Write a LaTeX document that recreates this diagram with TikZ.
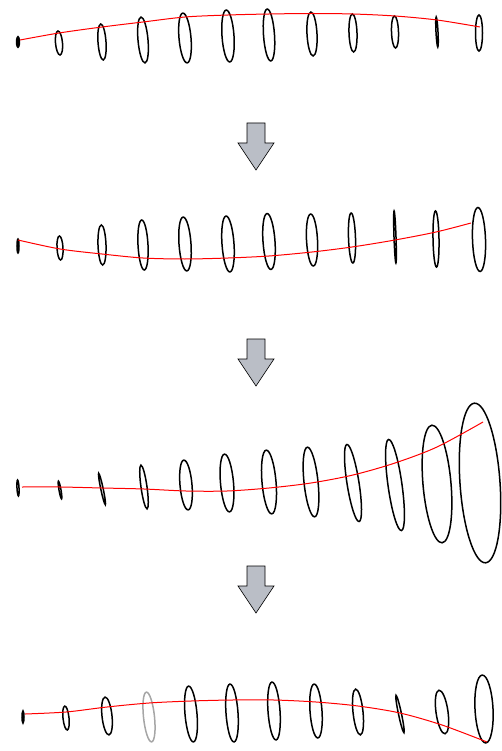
\documentclass[tikz,border=0pt]{standalone}
\usepackage{tikz}
\definecolor{arrowgray}{RGB}{186,190,198}
\tikzset{ring/.style={draw=black, line width=1.5pt},
    spine/.style={red, line width=1pt},
    downarrow/.style={fill=arrowgray, draw=black, line width=0.6pt, line join=miter}}

\begin{document}
\begin{tikzpicture}[x=1pt, y=-1pt]
    \useasboundingbox (0,0) rectangle (501,751);
    % row 1
    \fill[black] (18,42) circle [x radius=2.2, y radius=6.5];
    \foreach \x/\y/\rx/\ry/\a in {59/43/3.5/12/5, 102/42/4/18/4, 143/40/5/23/5, 185/38/6/25/5, 228/36/6/26/4, 269/35/5.5/26/4, 312/34/5/22/3, 353/33/4/19/2, 395/32/3.5/16/2, 437/32/1/15/3, 479/33/3.5/18/0}{\draw[ring] (\x,\y) circle [x radius=\rx, y radius=\ry, rotate=\a];}
    \draw[spine] plot[smooth] coordinates {(20,40) (59,33) (102,27) (143,22) (185,17) (228,15) (269,14) (312,13.5) (353,14) (395,16) (437,20) (480,27)};
    % row 2
    \foreach \x/\y/\rx/\ry/\a in {18/246/1/7/0, 60/248/3/12/3, 102/245/4/20/2, 143/245/5/25/3, 185/244/6/27/4, 228/244/6/28/4, 269/241.5/6/28/4, 312/240/5.5/26/3, 352/238/3.5/25/2, 395/237/1/26/2, 436/239/3/28/1, 479/239.5/6.5/32/2}{\draw[ring] (\x,\y) circle [x radius=\rx, y radius=\ry, rotate=\a];}
    \draw[spine] plot[smooth] coordinates {(18,240) (60,249) (102,254) (143,258) (185,259) (228,258) (269,256) (312,252) (352,247) (395,240) (436,232) (471,223)};
    % row 3
    \foreach \x/\y/\rx/\ry/\a in {18/488/1/8/3, 60/490/1/9/10, 102/489/1.2/16/12, 144/487/3/22/8, 186/485/6/25/5, 227/483/6.5/29/5, 269/482/7/32/5, 311/482/7/35/6, 353/483/6/39/9, 395/485/7/46/8, 437/484/14/59/5, 480/483/20/80/4}{\draw[ring] (\x,\y) circle [x radius=\rx, y radius=\ry, rotate=\a];}
    \draw[spine] plot[smooth] coordinates {(22,487) (60,487) (102,488) (144,489) (186,491) (227,491) (269,488) (311,483) (353,475) (395,463) (437,447) (483,422)};
    % row 4
    \foreach \x/\y/\rx/\ry/\a in {23/717/1/6/0, 66/718/3/12/6, 107/716/5/19/6, 191/714/6/28/5, 232/713/6/29/4, 274/711/6/29/4, 316/711/6/27/4, 358/712/5/23/6, 400/714/1.5/19/12, 442/712/6/22/8, 484/709/9/34/3}{\draw[ring] (\x,\y) circle [x radius=\rx, y radius=\ry, rotate=\a];}
    \draw[ring, draw=black!35] (149,717) circle [x radius=5.5, y radius=25, rotate=6];
    \draw[spine] plot[smooth] coordinates {(25,714) (66,712) (107,707) (149,703) (191,701) (232,700) (274,700) (316,702) (358,706) (400,713) (442,725) (487,742)};
    % arrows between rows
    \foreach \t in {123,339,566}{\draw[downarrow] (247,\t) -- (265,\t) -- (265,\t+20) -- (274,\t+20) -- (256,\t+47) -- (238,\t+20) -- (247,\t+20) -- cycle;}
\end{tikzpicture}
\end{document}
